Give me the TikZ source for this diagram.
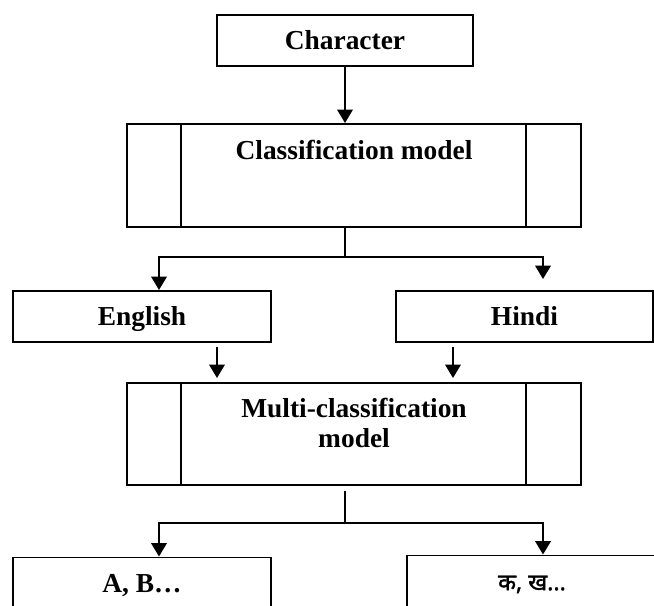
\documentclass[tikz,border=0pt]{standalone}
\usepackage{fontspec}
\setmainfont{Liberation Serif}
\newfontfamily\hindifont[Script=Devanagari, FakeBold=1.5]{Noto Sans}
\usetikzlibrary{arrows.meta, calc}
\tikzset{%
    pri/.style={line width = 1.4pt},
    pria/.style={line width = 1.4pt, -{Triangle[length=9.5pt,width=11pt]}},
    box/.style={rectangle, draw, line width = 1.4pt, minimum width=6.45cm, minimum height=1.275cm, inner sep=0pt, text height=16pt, text depth=3pt},
    modelbox/.style={rectangle, draw, line width = 1.4pt, minimum width=11.35cm, inner sep=0pt},
    lbl/.style={font=\fontsize{19.5}{21.5}\selectfont\bfseries, align=center, inner sep=0pt},
}
\begin{document}
\begin{tikzpicture}
    \useasboundingbox (0,0) rectangle (16.35,-15.125);
    \clip (0,0) rectangle (16.35,-15.125);
    % boxes
    \node [box, lbl, minimum width=6.4cm] (char) at (8.625,-1.0125) {Character};
    \node [modelbox, minimum height=2.575cm] (class) at (8.85,-4.3875) {};
    \node [lbl] (classlbl) at (8.85,-3.75) {Classification model};
    \draw [pri] ([xshift=1.375cm]class.north west) -- ([xshift=1.375cm]class.south west);
    \draw [pri] ([xshift=-1.4cm]class.north east) -- ([xshift=-1.4cm]class.south east);
    \node [box, lbl] (eng) at (3.55,-7.9125) {English};
    \node [box, lbl, minimum width=6.425cm] (hin) at (13.1125,-7.9125) {Hindi};
    \node [modelbox, minimum height=2.55cm] (multi) at (8.85,-10.85) {};
    \node [lbl] (multilbl) at (8.85,-10.575) {Multi-classification\\model};
    \draw [pri] ([xshift=1.375cm]multi.north west) -- ([xshift=1.375cm]multi.south west);
    \draw [pri] ([xshift=-1.4cm]multi.north east) -- ([xshift=-1.4cm]multi.south east);
    \node [box, lbl] (ab) at (3.55,-14.575) {A, B\ldots};
    \node [box, lbl, minimum width=6.25cm] (ka) at (13.3,-14.525) {{\hindifont\fontsize{16.5}{18}\selectfont क, ख...}};
    % connectors
    \draw [pria] (char.south) -- (char.south |- class.north);
    \coordinate (split1) at (8.625,-6.425);
    \draw [pri] (char.south |- class.south) -- (split1);
    \draw [pria] (split1) -| ([xshift=0.425cm]eng.north);
    \draw [pria] (split1) -| ([xshift=0.4625cm,yshift=0.275cm]hin.north);
    \draw [pria] ([xshift=1.875cm,yshift=-0.1cm]eng.south) -- ++(0,-0.775);
    \draw [pria] ([xshift=-1.7875cm,yshift=-0.1cm]hin.south) -- ++(0,-0.775);
    \coordinate (split2) at (8.625,-13.075);
    \draw [pri] ([yshift=-0.125cm]char.south |- multi.south) -- (split2);
    \draw [pria] (split2) -| ([xshift=0.425cm]ab.north);
    \draw [pria] (split2) -| ([xshift=0.275cm]ka.north);
\end{tikzpicture}
\end{document}
